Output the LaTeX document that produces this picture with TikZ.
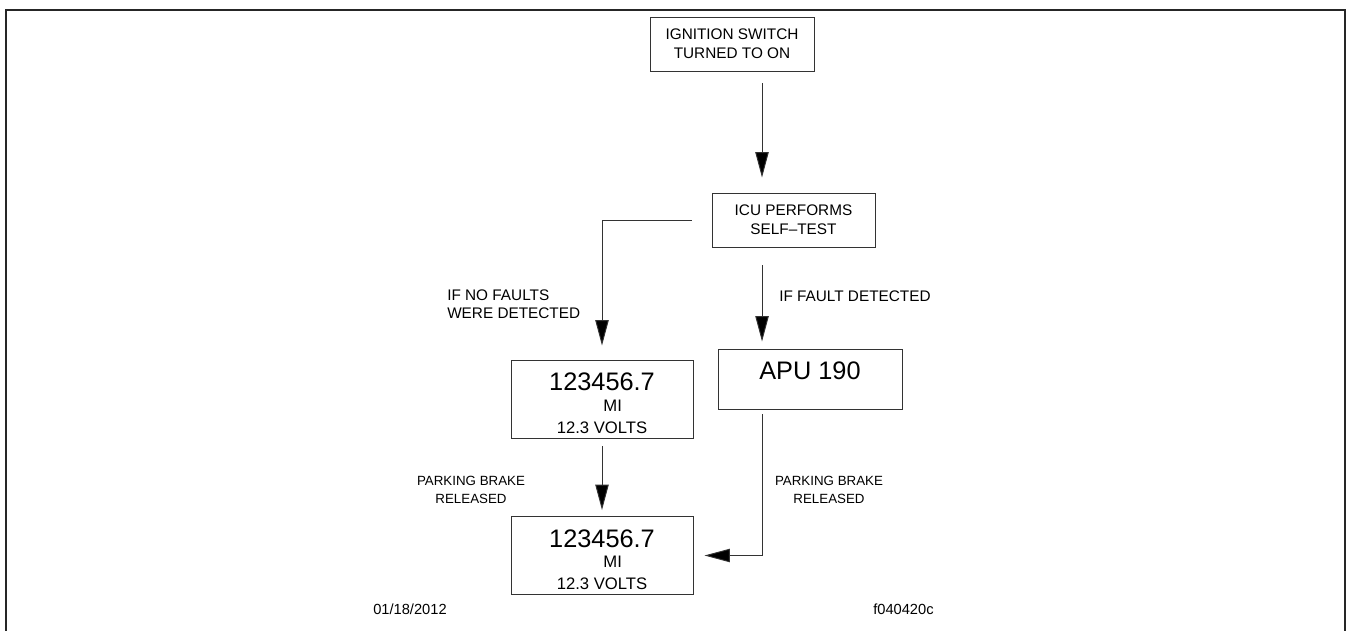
\documentclass[tikz,border=0pt]{standalone}
\usepackage{fontspec}
\setmainfont{Liberation Sans}
\usetikzlibrary{arrows.meta}

\begin{document}
\begin{tikzpicture}[x=0.75pt, y=-0.75pt,
    box/.style={draw=black!80, line width=0.7pt, align=center, inner sep=0pt,
        font=\fontsize{11.5}{14}\selectfont},
    disp/.style={box, minimum width=136.5pt, minimum height=58.5pt,
        font=\fontsize{12.5}{15}\selectfont},
    lbl/.style={align=left, inner sep=0pt, font=\fontsize{11.5}{13.5}\selectfont},
    brk/.style={align=center, inner sep=0pt, font=\fontsize{10}{13.5}\selectfont},
    arr/.style={draw=black!80, line width=0.7pt, -{Triangle[length=19pt,width=10pt,fill=black]}}]
    \useasboundingbox (0,0) rectangle (1350,631);
    \draw[line width=1.4pt, black!85] (6,631) -- (6,10) -- (1345,10) -- (1345,631);

    \node[box, minimum width=123pt, minimum height=40.5pt] (ign) at (732,44)
        {IGNITION SWITCH\\TURNED TO ON};
    \node[box, minimum width=122.25pt, minimum height=40.5pt] (icu) at (793.5,220)
        {ICU PERFORMS\\SELF--TEST};
    \node[box, minimum width=138pt, minimum height=45pt, text height=13.5pt, text depth=13.5pt,
        font=\fontsize{19}{20}\selectfont] (apu) at (810,379) {APU 190};
    \node[disp] (ok) at (602,399)
        {{\fontsize{19}{15}\selectfont\rule{0pt}{19.5pt}123456.7}\\[0.5pt]\hspace*{16pt}MI\\[1.5pt]12.3 VOLTS};
    \node[disp] (done) at (602,555.5)
        {{\fontsize{19}{15}\selectfont\rule{0pt}{19.5pt}123456.7}\\[0.5pt]\hspace*{16pt}MI\\[1.5pt]12.3 VOLTS};

    \draw[arr, shorten <=9pt, shorten >=11.25pt] ([xshift=22.5pt]ign.south)
        -- ([xshift=22.5pt]ign.south |- icu.north);
    \draw[arr, shorten >=10.5pt] ([xshift=-15pt]icu.west) -| (ok.north);
    \draw[arr, shorten <=13.5pt, shorten >=5.25pt] ([xshift=-23.6pt]icu.south)
        -- ([xshift=-23.6pt]icu.south |- apu.north);
    \draw[arr, shorten <=6pt, shorten >=4.5pt] (ok.south) -- (done.north);
    \draw[arr, shorten <=3.75pt, shorten >=8.25pt] ([xshift=-36pt]apu.south) |- (done.east);

    \node[lbl, anchor=west] (nofault) at (447,304) {IF NO FAULTS\\WERE DETECTED};
    \node[lbl, anchor=west] (fault) at (779,296) {IF FAULT DETECTED};
    \node[brk] (brk1) at (471,490) {PARKING BRAKE\\RELEASED};
    \node[brk] (brk2) at (829,490) {PARKING BRAKE\\RELEASED};

    \node[lbl, anchor=west, font=\fontsize{11}{13}\selectfont] (date) at (373,609) {01/18/2012};
    \node[lbl, anchor=west, font=\fontsize{11}{13}\selectfont] (fig) at (873,609) {f040420c};
\end{tikzpicture}
\end{document}
